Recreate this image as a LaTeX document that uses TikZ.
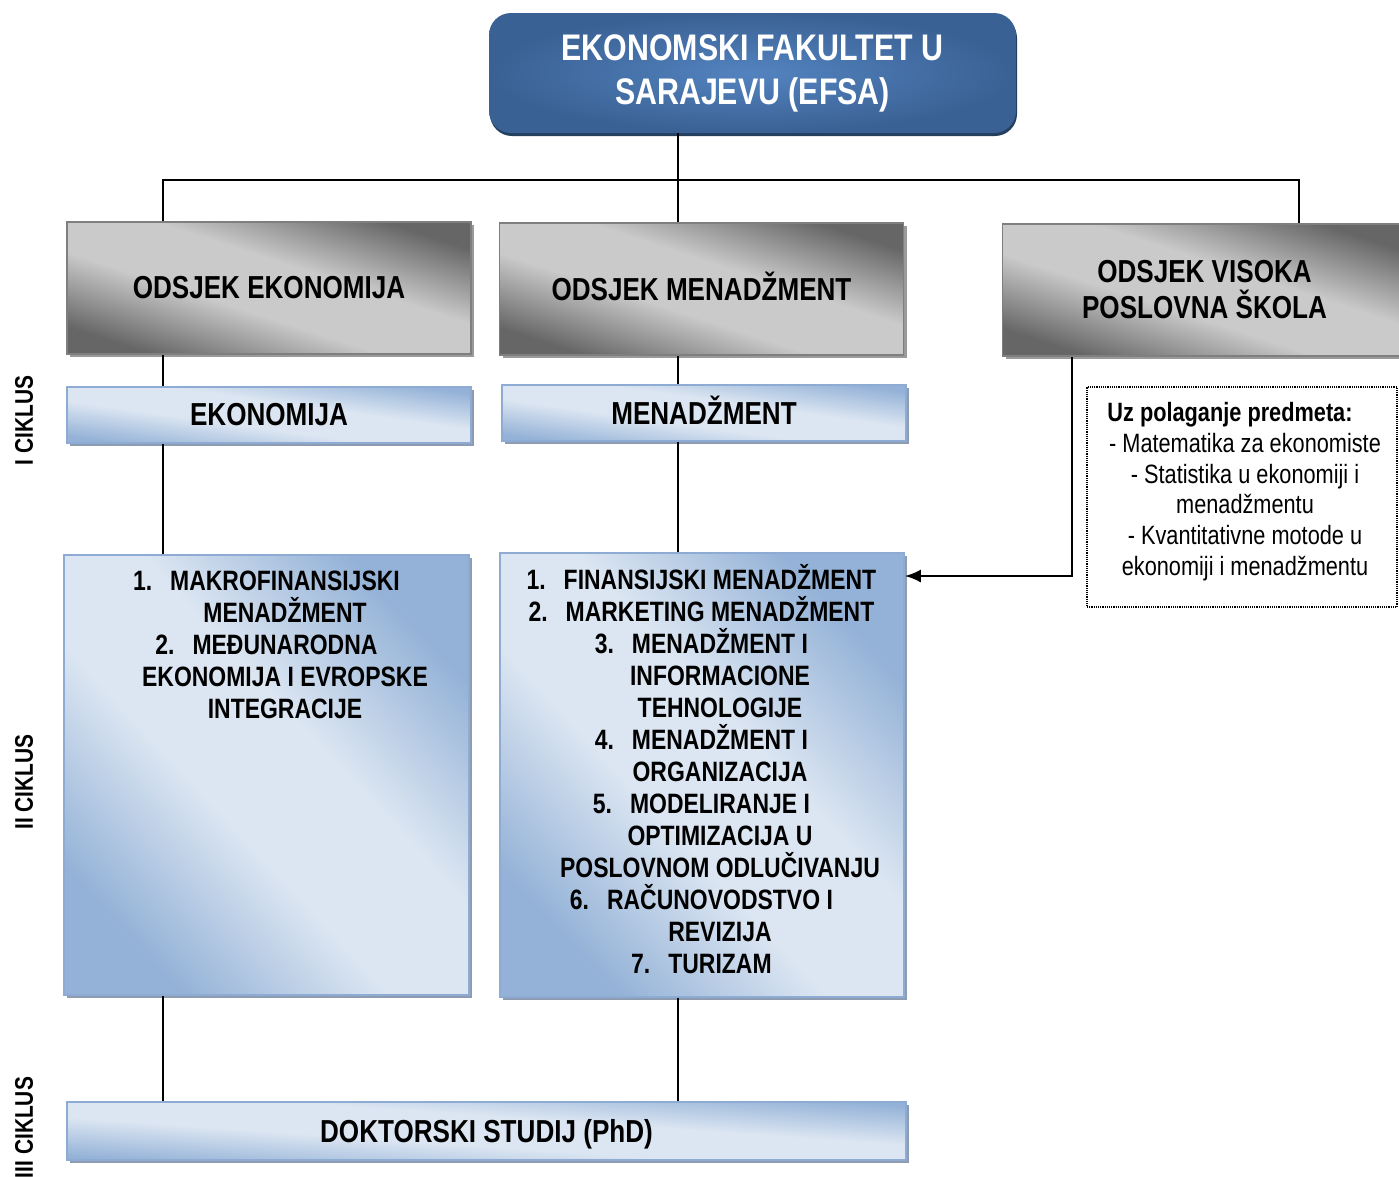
\documentclass[tikz,border=0pt]{standalone}
\usepackage{fontspec}
\setmainfont{Liberation Sans}[FakeStretch=0.82]
\usetikzlibrary{shadows,arrows.meta}

\definecolor{efsaout}{HTML}{3A6194}
\definecolor{efsain}{HTML}{5383BF}
\definecolor{efsashade}{HTML}{25405F}
\definecolor{grdark}{HTML}{666666}
\definecolor{grlight}{HTML}{CACACA}
\definecolor{grline}{HTML}{7F7F7F}
\definecolor{grshade}{HTML}{9A9A9A}
\definecolor{bldark}{HTML}{94B2D7}
\definecolor{bllight}{HTML}{DCE6F2}
\definecolor{blline}{HTML}{8EACD3}
\definecolor{blshade}{HTML}{8E9CB1}

\pgfdeclareverticalshading{deptfill}{100bp}{color(0bp)=(grdark); color(25bp)=(grdark);
  color(43bp)=(grlight); color(57bp)=(grlight); color(75bp)=(grdark); color(100bp)=(grdark)}
\pgfdeclareverticalshading{progfill}{100bp}{color(0bp)=(bldark); color(25bp)=(bldark);
  color(43bp)=(bllight); color(57bp)=(bllight); color(75bp)=(bldark); color(100bp)=(bldark)}

\begin{document}
\begin{tikzpicture}[x=1pt, y=-1pt,
    uni/.style={rounded corners=22pt, inner color=efsain, outer color=efsaout,
      minimum width=527pt, minimum height=120pt, inner sep=0pt, align=center,
      text=white, font=\fontsize{37}{44}\selectfont\bfseries,
      drop shadow={shadow xshift=1pt, shadow yshift=-3pt, fill=efsashade, opacity=1}},
    dept/.style={draw=grline, line width=1.5pt, shading=deptfill, shading angle=-18,
      minimum width=404pt, minimum height=132pt,
      inner sep=0pt, align=center, font=\fontsize{31.8}{36}\selectfont\bfseries,
      drop shadow={shadow xshift=3pt, shadow yshift=-3pt, fill=grshade, opacity=1}},
    prog/.style={draw=blline, line width=1.5pt, shading=progfill, inner sep=0pt,
      font=\fontsize{31.8}{36}\selectfont\bfseries,
      drop shadow={shadow xshift=3pt, shadow yshift=-3pt, fill=blshade, opacity=1}},
    listtxt/.style={anchor=north, inner sep=0pt, align=center,
      font=\fontsize{28}{32}\selectfont\bfseries},
    ciklus/.style={rotate=90, inner sep=0pt, font=\fontsize{25.5}{30}\selectfont\bfseries},
    conn/.style={line width=1.8pt},
    link/.style={line width=1.4pt},
    arrow/.style={line width=2.4pt, -{Latex[length=16pt, width=13pt]}}]
  \useasboundingbox (0,0) rectangle (1399,1176);

  % faculty and departments
  \node[uni] (efsa) at (752.5,73) {EKONOMSKI FAKULTET U\\SARAJEVU (EFSA)};
  \node[dept] (oek) at (269,288) {ODSJEK EKONOMIJA};
  \node[dept] (odm) at (701.5,289) {\raisebox{0pt}[22.7pt][0pt]{ODSJEK MENADŽMENT}};
  \node[dept] (ovps) at (1204.5,290) {ODSJEK VISOKA\\POSLOVNA ŠKOLA};

  % first cycle
  \node[prog, shading angle=-8, minimum width=404pt, minimum height=56pt] (ek) at (269,415) {EKONOMIJA};
  \node[prog, shading angle=-8, minimum width=404pt, minimum height=56pt] (mn) at (704,413)
    {\raisebox{0pt}[22.7pt][0pt]{MENADŽMENT}};

  % second cycle
  \node[prog, shading angle=-47, minimum width=405pt, minimum height=440pt] (ekm) at (266.5,775) {};
  \node[prog, shading angle=-47, minimum width=404pt, minimum height=444pt] (mm) at (702,775) {};
  \node[listtxt] (ekmtxt) at (285,565) {\vphantom{Ž}\llap{1.\hspace{18pt}}MAKROFINANSIJSKI\\
    MENADŽMENT\\
    \llap{2.\hspace{18pt}}MEĐUNARODNA\\
    EKONOMIJA I EVROPSKE\\
    INTEGRACIJE};
  \node[listtxt] (mmtxt) at (720,564) {\llap{1.\hspace{18pt}}FINANSIJSKI MENADŽMENT\\
    \llap{2.\hspace{18pt}}MARKETING MENADŽMENT\\
    \llap{3.\hspace{18pt}}MENADŽMENT I\\
    INFORMACIONE\\
    TEHNOLOGIJE\\
    \llap{4.\hspace{18pt}}MENADŽMENT I\\
    ORGANIZACIJA\\
    \llap{5.\hspace{18pt}}MODELIRANJE I\\
    OPTIMIZACIJA U\\
    POSLOVNOM ODLUČIVANJU\\
    \llap{6.\hspace{18pt}}RAČUNOVODSTVO I\\
    REVIZIJA\\
    \llap{7.\hspace{18pt}}TURIZAM};

  % condition for the business school
  \node[draw, line width=1.2pt, densely dotted, minimum width=310pt, minimum height=220pt,
    inner sep=0pt] (uslov) at (1242,497) {};
  \node[anchor=north, inner sep=0pt, align=center, font=\fontsize{26.5}{30.8}\selectfont]
    (uslovtxt) at (1245,402) {\textbf{Uz polaganje predmeta:}\rule{30pt}{0pt}\\
    - Matematika za ekonomiste\\
    - Statistika u ekonomiji i\\
    menadžmentu\\
    - Kvantitativne motode u\\
    ekonomiji i menadžmentu};

  % third cycle
  \node[prog, shading angle=-4, minimum width=839pt, minimum height=58pt] (phd) at (486.5,1131)
    {\raisebox{0pt}[\height][0pt]{DOKTORSKI STUDIJ (PhD)}};

  \node[ciklus] (c1) at (24,420.5) {I CIKLUS};
  \node[ciklus] (c2) at (24,782) {II CIKLUS};
  \node[ciklus] (c3) at (24,1127.5) {III CIKLUS};

  % connectors
  \coordinate (busL) at (163,180);
  \coordinate (busM) at (678,180);
  \coordinate (busR) at (1299,180);
  \coordinate (turn) at (1072,576);
  \draw[conn] (efsa.south -| busM) -- (busM);
  \draw[conn] (oek.north -| busL) -- (busL) -- (busR) -- (ovps.north -| busR);
  \draw[conn] (busM) -- (odm.north -| busM);
  \draw[link] (oek.south -| busL) -- (ek.north -| busL);
  \draw[link] (ek.south -| busL) -- (ekm.north -| busL);
  \draw[link] (ekm.south -| busL) -- (phd.north -| busL);
  \draw[link] (odm.south -| busM) -- (mn.north -| busM);
  \draw[link] (mn.south -| busM) -- (mm.north -| busM);
  \draw[link] (mm.south -| busM) -- (phd.north -| busM);
  \draw[arrow] (ovps.south -| turn) -- (turn) -- (mm.east |- turn);
\end{tikzpicture}
\end{document}
